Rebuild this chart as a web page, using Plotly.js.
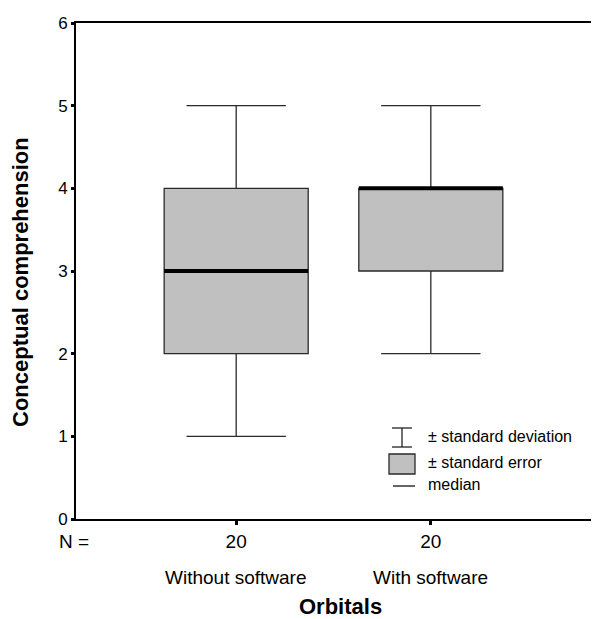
<!DOCTYPE html>
<html>
<head>
<meta charset="utf-8">
<script src="https://cdn.plot.ly/plotly-3.0.1.min.js"></script>
<style>html,body{margin:0;padding:0;background:#fff;}#chart{width:592px;height:619px;}</style>
</head>
<body>
<div id="chart"></div>
<script>
// Data
const categories = ["Without software", "With software"];
const nCounts = [20, 20];
const lowerWhisker = [1, 2];
const q1 = [2, 3];
const median = [3, 4];
const q3 = [4, 4];
const upperWhisker = [5, 5];
const yTickVals = [0, 1, 2, 3, 4, 5, 6];
const xTitle = "Orbitals";
const yTitle = "Conceptual comprehension";

// Styles / layout constants
const W = 592, H = 619;
const M = {l: 76, r: 1, t: 23, b: 100};
const xRange = [-0.823, 1.823];
const yRange = [0, 6];
const boxWidth = 0.74;
const FONT = "Liberation Sans, Arial, sans-serif";
const pw = W - M.l - M.r, ph = H - M.t - M.b;
function px2x(px) { return xRange[0] + (px - M.l) / pw * (xRange[1] - xRange[0]); }
function py2y(py) { return yRange[0] + (H - M.b - py) / ph * (yRange[1] - yRange[0]); }
function px2p(px) { return (px - M.l) / pw; }
function py2p(py) { return (H - M.b - py) / ph; }

const xs = categories.map((c, i) => i);

const boxTrace = {
  type: 'box',
  x: xs,
  q1: q1, median: median, q3: q3,
  lowerfence: lowerWhisker, upperfence: upperWhisker,
  width: boxWidth,
  whiskerwidth: 0.69,
  fillcolor: '#c0c0c0',
  line: {color: '#2a2a2a', width: 1.3},
  boxpoints: false,
  hoverinfo: 'skip',
  showlegend: false
};

const mx = [], my = [];
xs.forEach((x, i) => {
  mx.push(x - boxWidth / 2, x + boxWidth / 2, null);
  my.push(median[i], median[i], null);
});
const medianTrace = {
  type: 'scatter', mode: 'lines', x: mx, y: my,
  line: {color: '#000', width: 4},
  hoverinfo: 'skip', showlegend: false
};

// Legend (drawn by hand)
const shapes = [];
const lc = '#222';
function seg(x0, y0, x1, y1, w, c) {
  shapes.push({type: 'line', xref: 'x', yref: 'y', x0: px2x(x0), y0: py2y(y0), x1: px2x(x1), y1: py2y(y1), line: {color: c || lc, width: w || 1.3}});
}
seg(402, 428, 402, 447);
seg(392, 428, 412, 428);
seg(392, 447, 412, 447);
shapes.push({type: 'rect', xref: 'x', yref: 'y', x0: px2x(389), x1: px2x(415), y0: py2y(454), y1: py2y(474), fillcolor: '#c0c0c0', line: {color: '#2a2a2a', width: 1.3}});
seg(393, 486, 415, 486, 1.5, '#333');

const annotations = [];
function txt(text, px, py, size, anchor, angle) {
  annotations.push({xref: 'paper', yref: 'paper', x: px2p(px), y: py2p(py), text: text, showarrow: false,
    xanchor: anchor || 'left', yanchor: 'middle', textangle: angle || 0,
    font: {family: FONT, size: size, color: '#000'}});
}
txt('± standard deviation', 426, 436, 16);
txt('± standard error', 426, 462, 16);
txt('median', 426, 484, 16);
txt('N =', 57, 541, 19);
txt('<b>' + xTitle + '</b>', 340, 606, 22, 'center');
txt('<b>' + yTitle + '</b>', 20, 282, 22, 'center', -90);

categories.forEach((c, i) => {
  annotations.push({xref: 'x', yref: 'paper', x: xs[i], y: py2p(577), text: c, showarrow: false,
    xanchor: 'center', yanchor: 'middle', font: {family: FONT, size: 19, color: '#000'}});
});

const layout = {
  width: W, height: H,
  margin: M,
  paper_bgcolor: '#fff', plot_bgcolor: '#fff',
  font: {family: FONT, color: '#000'},
  xaxis: {
    range: xRange, showgrid: false, zeroline: false,
    showline: true, linecolor: '#000', linewidth: 2, mirror: true,
    tickmode: 'array', tickvals: xs, ticktext: nCounts.map(String),
    ticks: 'outside', ticklen: 4, tickwidth: 3, tickcolor: '#000',
    tickfont: {family: FONT, size: 19}
  },
  yaxis: {
    range: yRange, showgrid: false, zeroline: false,
    showline: true, linecolor: '#000', linewidth: 2,
    tickmode: 'array', tickvals: yTickVals,
    ticks: 'outside', ticklen: 3, tickwidth: 3, tickcolor: '#000',
    tickfont: {family: FONT, size: 17}
  },
  shapes: shapes,
  annotations: annotations,
  showlegend: false
};

Plotly.newPlot('chart', [boxTrace, medianTrace], layout, {staticPlot: true, displayModeBar: false});
</script>
</body>
</html>
